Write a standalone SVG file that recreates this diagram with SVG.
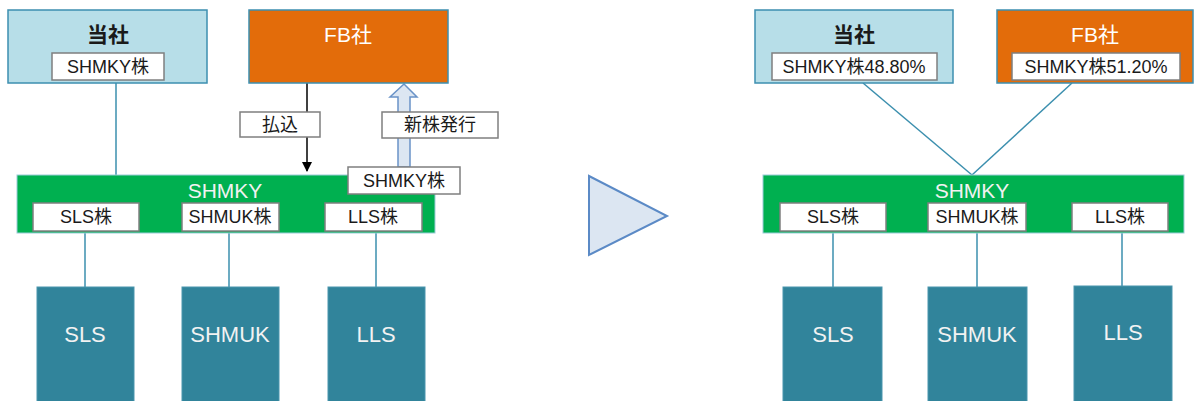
<svg xmlns="http://www.w3.org/2000/svg" width="1194" height="401" viewBox="0 0 1194 401">
<style>
text{font-family:"Liberation Sans","Noto Sans CJK JP",sans-serif;text-anchor:middle}
.top{stroke:#3d8fb0;stroke-width:1.5}
.tosha{fill:#b7dee8}
.fb{fill:#e36c0a}
.lbl{fill:#fff;stroke:#7f7f7f;stroke-width:1.5}
.lt{font-size:18px;fill:#1a1a1a}
.green{fill:#00b050;stroke:#9ccbd8;stroke-width:1}
.sub{fill:#31849b;stroke:#4a95ad;stroke-width:1}
.st{font-size:22px;fill:#f2f2f2}
.gt{font-size:21px;fill:#f2f2f2}
.conn{stroke:#3b8fae;stroke-width:1.5;fill:none}
</style>
<defs>
<marker id="ah" viewBox="0 0 10 10" refX="9" refY="5" markerWidth="7" markerHeight="7" orient="auto"><path d="M0,0 L10,5 L0,10 z" fill="#000"/></marker>
</defs>

<g id="connectors">
<line class="conn" x1="116" y1="83" x2="116" y2="175"/>
<line class="conn" x1="85" y1="231" x2="85" y2="287"/>
<line class="conn" x1="229" y1="231" x2="229" y2="287"/>
<line class="conn" x1="376" y1="231" x2="376" y2="287"/>
<line class="conn" x1="376" y1="194" x2="376" y2="203" stroke-width="1" opacity="0.6"/>
<line x1="307" y1="83" x2="307" y2="171" stroke="#000" stroke-width="1.5" marker-end="url(#ah)"/>
<path d="M398,167 L398,97 L390,97 L404,84 L417,97 L410,97 L410,167 Z" fill="#dce6f2" stroke="#6a93c8" stroke-width="1.5"/>
<line class="conn" x1="863" y1="83" x2="972" y2="175"/>
<line class="conn" x1="1072" y1="83" x2="972" y2="175"/>
<line class="conn" x1="833" y1="231" x2="833" y2="287"/>
<line class="conn" x1="977" y1="231" x2="977" y2="287"/>
<line class="conn" x1="1122" y1="231" x2="1122" y2="286"/>
</g>

<g id="tosha-left">
<rect class="top tosha" x="8" y="10" width="199" height="73"/>
<text x="108" y="42" font-size="21" fill="#1a1a1a" font-weight="bold">当社</text>
<rect class="lbl" x="52" y="53" width="112" height="27"/>
<text class="lt" x="108" y="73">SHMKY株</text>
</g>

<g id="fb-left">
<rect class="top fb" x="249" y="10" width="199" height="73"/>
<text x="348" y="42" font-size="21" fill="#fff">FB社</text>
</g>

<g id="label-haraikomi">
<rect class="lbl" x="240" y="112" width="80" height="25"/>
<text class="lt" x="280" y="131">払込</text>
</g>

<g id="label-shinkabu">
<rect class="lbl" x="382" y="112" width="116" height="26"/>
<text class="lt" x="440" y="131">新株発行</text>
</g>

<g id="shmky-left">
<rect class="green" x="17" y="175" width="418" height="58"/>
<text class="gt" x="225" y="198">SHMKY</text>
<rect class="lbl" x="33" y="203" width="106" height="28"/>
<text class="lt" x="86" y="223">SLS株</text>
<rect class="lbl" x="182" y="203" width="97" height="28"/>
<text class="lt" x="230" y="223">SHMUK株</text>
<rect class="lbl" x="325" y="203" width="97" height="28"/>
<text class="lt" x="373" y="223">LLS株</text>
</g>

<g id="shmky-share-left">
<rect class="lbl" x="348" y="167" width="112" height="27"/>
<text class="lt" x="404" y="187">SHMKY株</text>
</g>

<g id="sls-left">
<rect class="sub" x="37" y="287" width="97" height="116"/>
<text class="st" x="85" y="342">SLS</text>
</g>
<g id="shmuk-left">
<rect class="sub" x="182" y="287" width="97" height="116"/>
<text class="st" x="230" y="342">SHMUK</text>
</g>
<g id="lls-left">
<rect class="sub" x="328" y="287" width="97" height="116"/>
<text class="st" x="376" y="342">LLS</text>
</g>

<g id="triangle">
<polygon points="589,176 667,216 589,255" fill="#dce6f2" stroke="#5b8ac6" stroke-width="2"/>
</g>

<g id="tosha-right">
<rect class="top tosha" x="755" y="10" width="198" height="73"/>
<text x="854" y="42" font-size="21" fill="#1a1a1a" font-weight="bold">当社</text>
<rect class="lbl" x="772" y="53" width="165" height="27"/>
<text class="lt" x="854" y="73">SHMKY株48.80%</text>
</g>

<g id="fb-right">
<rect class="top fb" x="997" y="10" width="196" height="73"/>
<text x="1095" y="42" font-size="21" fill="#fff">FB社</text>
<rect class="lbl" x="1012" y="53" width="168" height="27"/>
<text class="lt" x="1096" y="73">SHMKY株51.20%</text>
</g>

<g id="shmky-right">
<rect class="green" x="763" y="175" width="421" height="58"/>
<text class="gt" x="972" y="198">SHMKY</text>
<rect class="lbl" x="780" y="203" width="106" height="28"/>
<text class="lt" x="833" y="223">SLS株</text>
<rect class="lbl" x="928" y="203" width="98" height="28"/>
<text class="lt" x="977" y="223">SHMUK株</text>
<rect class="lbl" x="1072" y="203" width="96" height="28"/>
<text class="lt" x="1120" y="223">LLS株</text>
</g>

<g id="sls-right">
<rect class="sub" x="783" y="287" width="99" height="116"/>
<text class="st" x="833" y="342">SLS</text>
</g>
<g id="shmuk-right">
<rect class="sub" x="928" y="287" width="99" height="116"/>
<text class="st" x="977" y="342">SHMUK</text>
</g>
<g id="lls-right">
<rect class="sub" x="1074" y="286" width="98" height="117"/>
<text class="st" x="1123" y="340">LLS</text>
</g>
</svg>
